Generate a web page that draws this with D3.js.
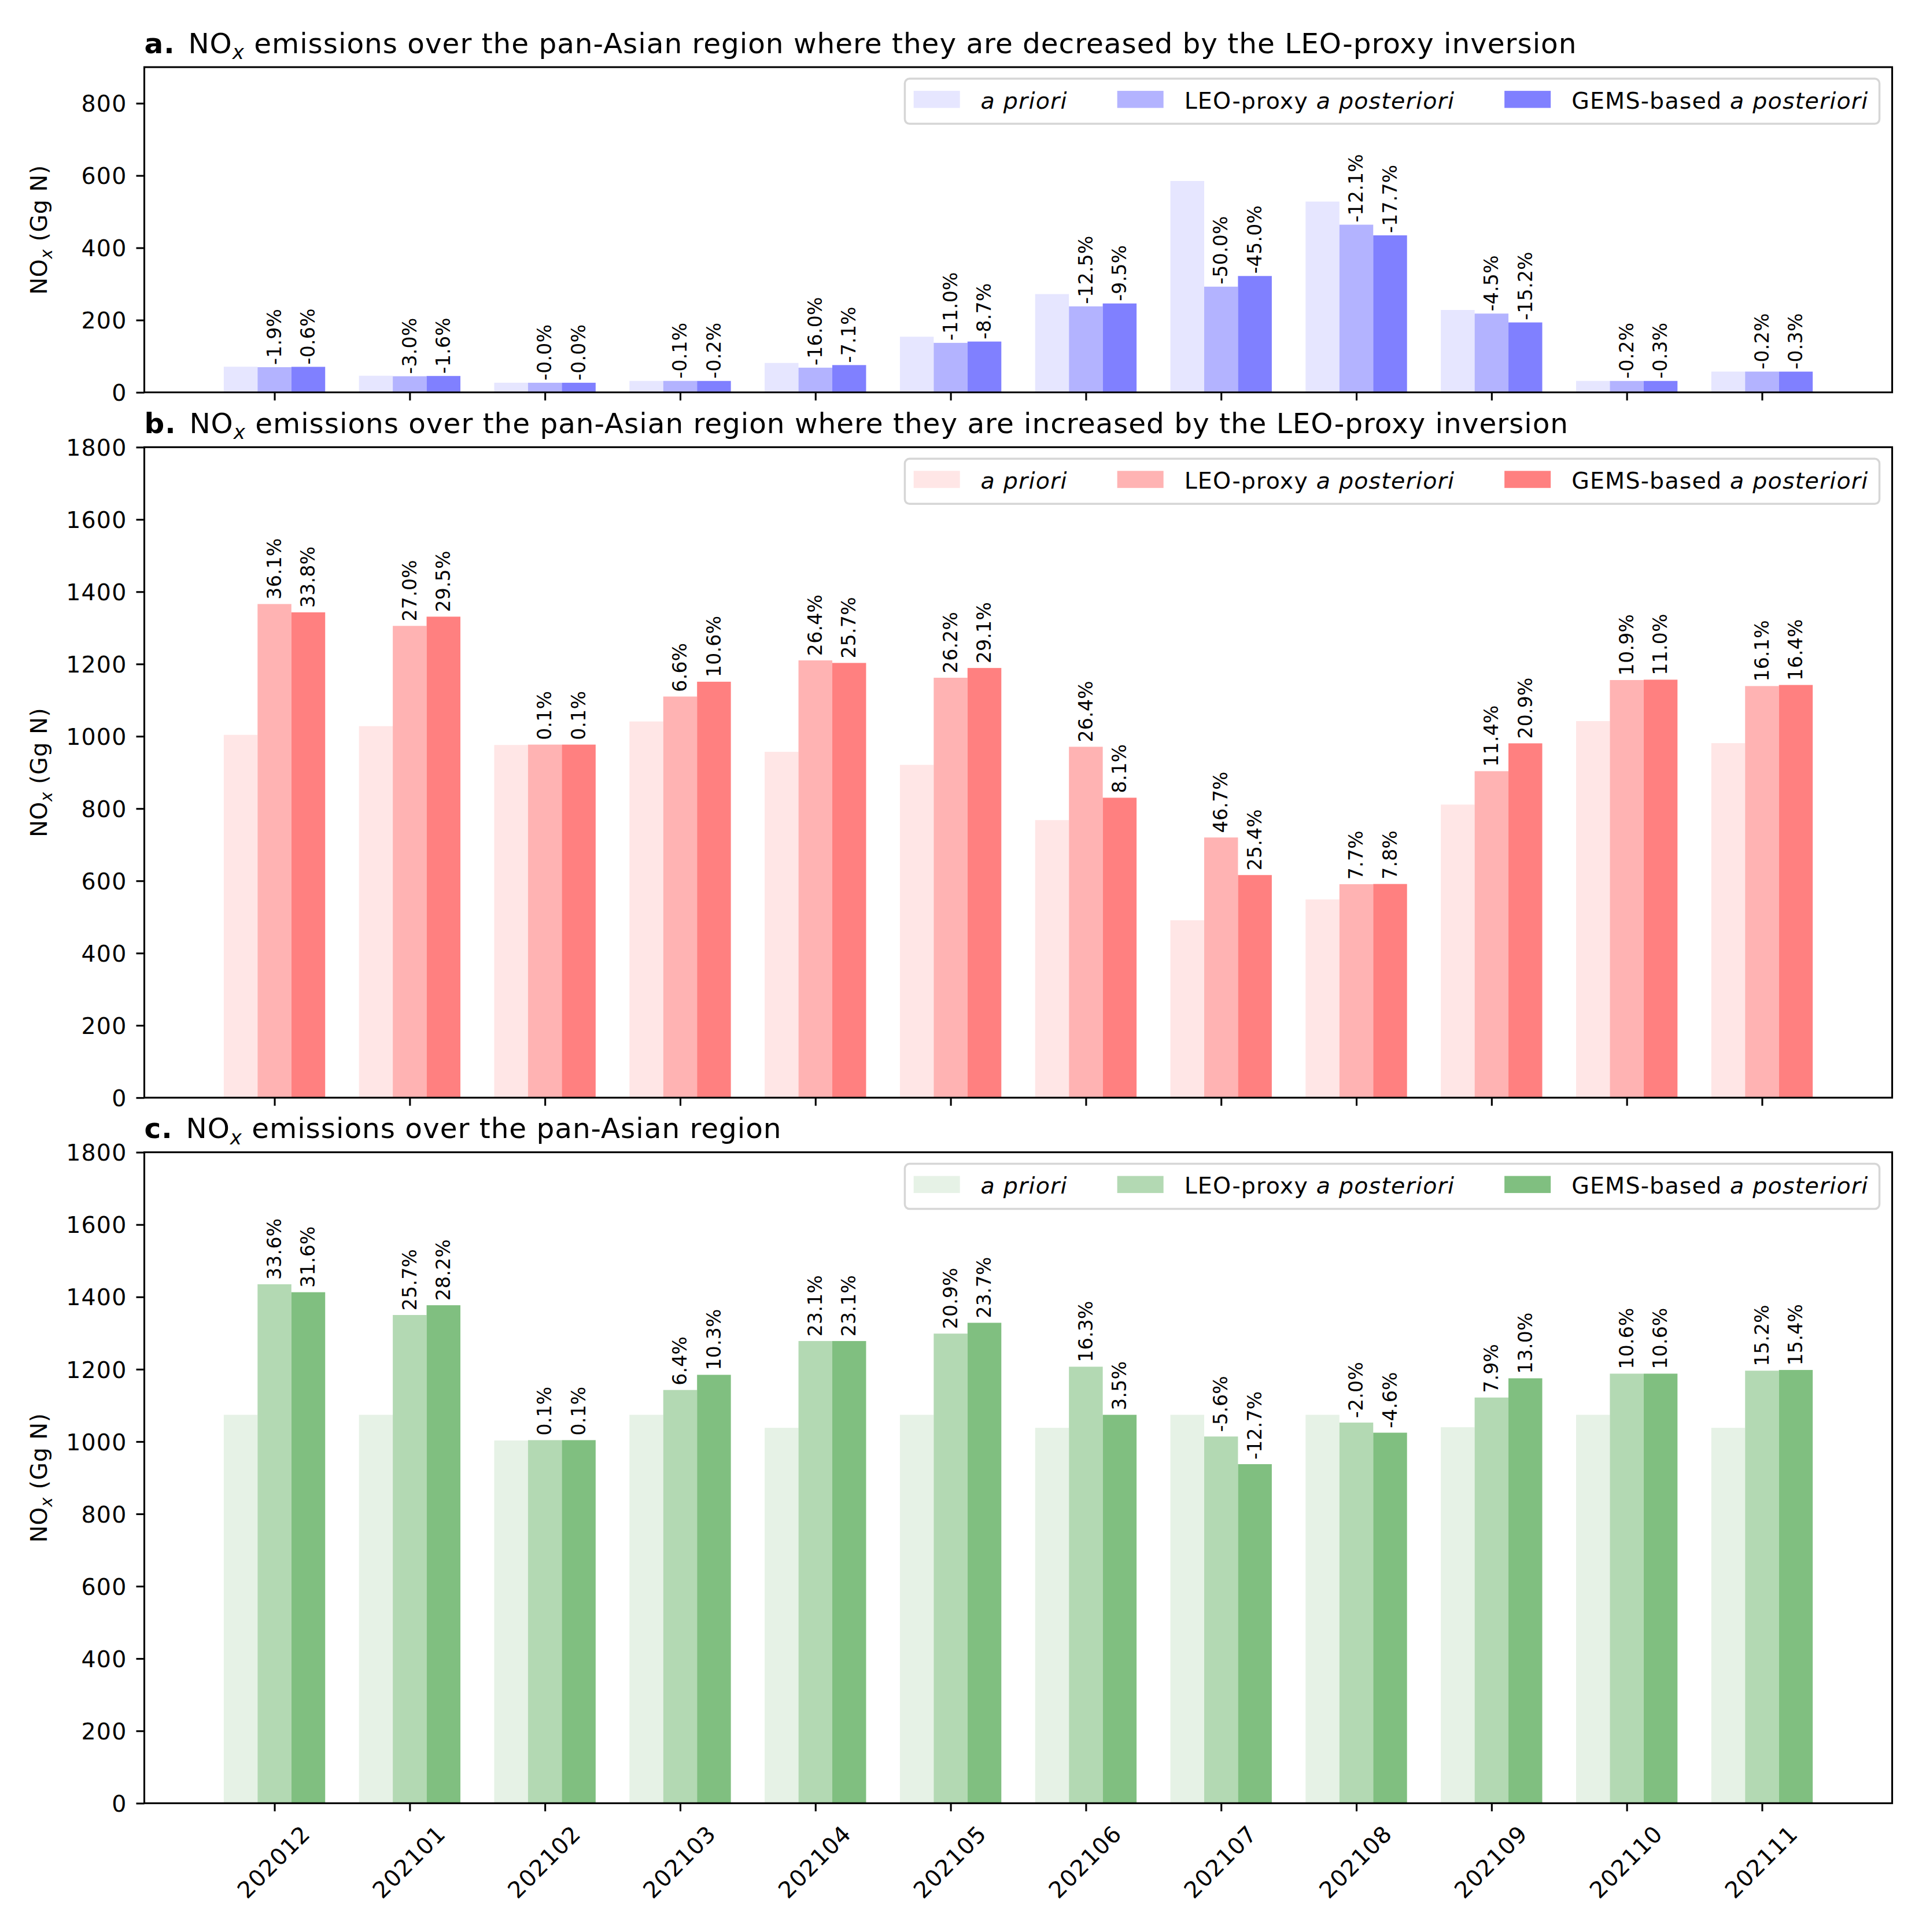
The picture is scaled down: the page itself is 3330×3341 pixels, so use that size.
<!DOCTYPE html>
<html>
<head>
<meta charset="utf-8">
<script src="https://cdn.jsdelivr.net/npm/d3@7"></script>
<style>
  body { margin: 0; background: #fff; }
  svg { display: block; }
  text { font-family: "DejaVu Sans", sans-serif; white-space: pre; }
</style>
</head>
<body>
<div id="chart"></div>
<script>
const months = ["202012", "202101", "202102", "202103", "202104", "202105", "202106", "202107", "202108", "202109", "202110", "202111"];
const seriesNames = ["a priori", "LEO-proxy a posteriori", "GEMS-based a posteriori"];

// a. decreased by the LEO-proxy inversion
const decApriori = [71, 46, 26.6, 31.7, 81.3, 154, 272, 585, 528, 228, 31.7, 57.6];
const decLeo = [69.7, 44.6, 26.6, 31.7, 68.3, 137, 238, 292.5, 464, 218, 31.6, 57.5];
const decGems = [70.6, 45.3, 26.6, 31.6, 75.5, 140.6, 246, 322, 434.5, 193.5, 31.6, 57.4];
const decLeoPct = ["-1.9%", "-3.0%", "-0.0%", "-0.1%", "-16.0%", "-11.0%", "-12.5%", "-50.0%", "-12.1%", "-4.5%", "-0.2%", "-0.2%"];
const decGemsPct = ["-0.6%", "-1.6%", "-0.0%", "-0.2%", "-7.1%", "-8.7%", "-9.5%", "-45.0%", "-17.7%", "-15.2%", "-0.3%", "-0.3%"];

// b. increased by the LEO-proxy inversion
const incApriori = [1004, 1028, 976, 1041, 957, 921, 768, 491, 548.5, 811, 1042, 981];
const incLeo = [1366, 1305.5, 977, 1110, 1210, 1162, 971, 720, 590.7, 903.5, 1155.6, 1139];
const incGems = [1343, 1331, 977, 1151, 1203, 1189, 830, 616, 591.3, 980.5, 1156.6, 1142];
const incLeoPct = ["36.1%", "27.0%", "0.1%", "6.6%", "26.4%", "26.2%", "26.4%", "46.7%", "7.7%", "11.4%", "10.9%", "16.1%"];
const incGemsPct = ["33.8%", "29.5%", "0.1%", "10.6%", "25.7%", "29.1%", "8.1%", "25.4%", "7.8%", "20.9%", "11.0%", "16.4%"];

// c. whole pan-Asian region
const totApriori = [1074, 1074, 1003, 1074, 1038, 1074, 1038, 1074, 1074, 1039.7, 1074, 1038];
const totLeo = [1435, 1350, 1004, 1142.7, 1278, 1298.5, 1207, 1014, 1052.5, 1121.8, 1187.8, 1196];
const totGems = [1413, 1377, 1004, 1184.6, 1278, 1328.5, 1074, 937.6, 1024.6, 1175, 1187.8, 1198];
const totLeoPct = ["33.6%", "25.7%", "0.1%", "6.4%", "23.1%", "20.9%", "16.3%", "-5.6%", "-2.0%", "7.9%", "10.6%", "15.2%"];
const totGemsPct = ["31.6%", "28.2%", "0.1%", "10.3%", "23.1%", "23.7%", "3.5%", "-12.7%", "-4.6%", "13.0%", "10.6%", "15.4%"];

const ticksA = [0, 200, 400, 600, 800];
const ticksBC = [0, 200, 400, 600, 800, 1000, 1200, 1400, 1600, 1800];

const W = 3330, H = 3341;
const LEFT = 249.5, RIGHT = 3271.5;
const LW = 3.1;
const TICK_FS = 39.5, TITLE_FS = 48.5, BAR_FS = 33;
const TICK_LS = 1.2, TITLE_LS = 0.95;

const panels = [
  { letter: "a.", rest: " emissions over the pan-Asian region where they are decreased by the LEO-proxy inversion",
    top: 116.1, bottom: 678.5, ymax: 900, ticks: ticksA,
    series: [decApriori, decLeo, decGems], pcts: [null, decLeoPct, decGemsPct],
    colors: ["#e6e6ff", "#b3b3ff", "#8080ff"], showMonths: false },
  { letter: "b.", rest: " emissions over the pan-Asian region where they are increased by the LEO-proxy inversion",
    top: 773.3, bottom: 1898.2, ymax: 1800, ticks: ticksBC,
    series: [incApriori, incLeo, incGems], pcts: [null, incLeoPct, incGemsPct],
    colors: ["#ffe6e6", "#ffb3b3", "#ff8080"], showMonths: false },
  { letter: "c.", rest: " emissions over the pan-Asian region",
    top: 1992.6, bottom: 3118.3, ymax: 1800, ticks: ticksBC,
    series: [totApriori, totLeo, totGems], pcts: [null, totLeoPct, totGemsPct],
    colors: ["#e6f2e6", "#b3d9b3", "#80bf80"], showMonths: true },
];

const svg = d3.select("#chart").append("svg")
  .attr("width", W).attr("height", H)
  .attr("viewBox", `0 0 ${W} ${H}`);
svg.append("rect").attr("width", W).attr("height", H).attr("fill", "#fff");

const x = d3.scaleLinear().domain([-0.9625, 11.9625]).range([LEFT, RIGHT]);
const barW = 0.25;
const bw = x(barW) - x(0);

// text with italic subscript x ("NO" + _x + rest)
function noxText(sel, rest, fs) {
  const shift = fs * 0.22;
  sel.append("tspan").text("NO");
  sel.append("tspan").attr("font-style", "italic").attr("font-size", fs * 0.7).attr("dy", shift).text("x");
  sel.append("tspan").attr("dy", -shift).text(rest);
}

function drawLegend(g, p) {
  const fs = TICK_FS;
  const hl = 80, hh = 29.5, htp = 36, cs = 86, padL = 15.2, padR = 19;
  const lg = g.append("g");
  const frame = lg.append("rect");
  let cx = padL;
  seriesNames.forEach((name, j) => {
    lg.append("rect")
      .attr("x", cx).attr("y", p.top + 41)
      .attr("width", hl).attr("height", hh)
      .attr("fill", p.colors[j]);
    const t = lg.append("text")
      .attr("x", cx + hl + htp).attr("y", p.top + 71.4)
      .attr("font-size", fs)
      .attr("letter-spacing", TICK_LS);
    name.split(/(a priori|a posteriori)/).filter((s) => s.length).forEach((part) => {
      t.append("tspan")
        .attr("font-style", /^a p/.test(part) ? "italic" : null)
        .text(part);
    });
    cx = cx + hl + htp + t.node().getComputedTextLength() + (j < 2 ? cs : padR);
  });
  frame.attr("x", 0).attr("y", p.top + 20)
    .attr("width", cx).attr("height", 78)
    .attr("rx", 8).attr("ry", 8)
    .attr("fill", "#fff").attr("fill-opacity", 0.8)
    .attr("stroke", "#d6d6d6").attr("stroke-width", 3.5);
  lg.attr("transform", `translate(${RIGHT - 22 - cx},0)`);
}

panels.forEach((p) => {
  const g = svg.append("g");
  const y = d3.scaleLinear().domain([0, p.ymax]).range([p.bottom, p.top]);

  // bars
  p.series.forEach((vals, j) => {
    g.append("g").selectAll("rect").data(vals).join("rect")
      .attr("x", (d, i) => x(i + (j - 1) * barW) - bw / 2)
      .attr("y", (d) => y(d))
      .attr("width", bw)
      .attr("height", (d) => y(0) - y(d))
      .attr("fill", p.colors[j]);
  });

  // percentage labels above the posterior bars
  p.pcts.forEach((labels, j) => {
    if (!labels) return;
    g.append("g").selectAll("text").data(labels).join("text")
      .attr("transform", (d, i) => `translate(${x(i + (j - 1) * barW) + BAR_FS * 0.34},${y(p.series[j][i] + p.ymax * 0.007)}) rotate(-90)`)
      .attr("font-size", BAR_FS)
      .attr("letter-spacing", 0.3)
      .attr("fill", "#000")
      .text((d) => d);
  });

  // y axis
  const ya = g.append("g").attr("transform", `translate(${LEFT},0)`)
    .call(d3.axisLeft(y).tickValues(p.ticks).tickFormat(d3.format("d")).tickSize(14).tickPadding(16).tickSizeOuter(0));
  ya.select(".domain").remove();
  ya.attr("font-size", TICK_FS).attr("font-family", "DejaVu Sans, sans-serif");
  ya.selectAll(".tick line").attr("stroke", "#000").attr("stroke-width", LW);
  ya.selectAll(".tick text").attr("fill", "#000").attr("dy", "0.36em").attr("letter-spacing", TICK_LS);

  // x axis
  const xa = g.append("g").attr("transform", `translate(0,${p.bottom})`)
    .call(d3.axisBottom(x).tickValues(d3.range(months.length))
      .tickFormat((i) => (p.showMonths ? months[i] : ""))
      .tickSize(14).tickPadding(16).tickSizeOuter(0));
  xa.select(".domain").remove();
  xa.attr("font-size", TICK_FS).attr("font-family", "DejaVu Sans, sans-serif");
  xa.selectAll(".tick line").attr("stroke", "#000").attr("stroke-width", LW);
  xa.selectAll(".tick text")
    .attr("fill", "#000")
    .attr("y", 0).attr("dy", "0.36em")
    .attr("text-anchor", "middle")
    .attr("letter-spacing", TICK_LS)
    .attr("transform", "translate(-2,101) rotate(-45)");

  // frame
  g.append("rect")
    .attr("x", LEFT).attr("y", p.top)
    .attr("width", RIGHT - LEFT).attr("height", p.bottom - p.top)
    .attr("fill", "none").attr("stroke", "#000").attr("stroke-width", LW);

  // y label
  const yl = g.append("text")
    .attr("transform", `translate(81,${(p.top + p.bottom) / 2}) rotate(-90)`)
    .attr("text-anchor", "middle")
    .attr("font-size", TICK_FS)
    .attr("letter-spacing", 0.6);
  noxText(yl, " (Gg N)", TICK_FS);

  // title
  const tt = g.append("text")
    .attr("x", LEFT).attr("y", p.top - 24.6)
    .attr("font-size", TITLE_FS)
    .attr("letter-spacing", TITLE_LS);
  tt.append("tspan").attr("font-weight", "bold").text(p.letter + " ");
  noxText(tt, p.rest, TITLE_FS);
  tt.select("tspan:nth-child(2)").attr("dx", 5);

  drawLegend(g, p);
});
</script>
</body>
</html>
